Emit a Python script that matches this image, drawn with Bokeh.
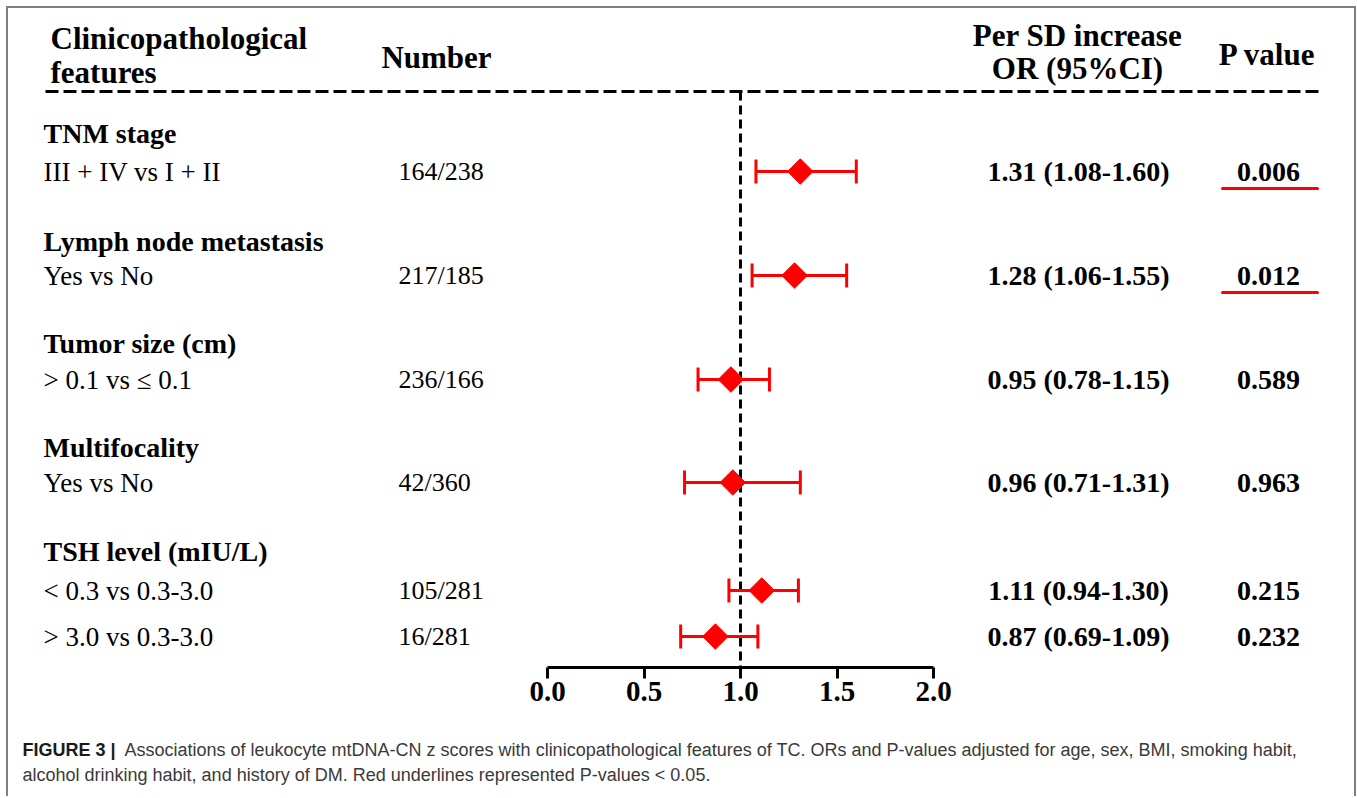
import math
from bokeh.plotting import figure
from bokeh.layouts import column
from bokeh.models import Range1d, LinearAxis, FixedTicker, PrintfTickFormatter
from bokeh.core.properties import value
from bokeh.embed import file_html
from bokeh.resources import INLINE

# ---------------- data ----------------
groups = ["TNM stage", "Lymph node metastasis", "Tumor size (cm)", "Multifocality", "TSH level (mIU/L)"]
comparisons = ["III + IV vs I + II", "Yes vs No", "> 0.1 vs \u2264  0.1", "Yes vs No",
               "< 0.3 vs 0.3-3.0", "> 3.0 vs 0.3-3.0"]
numbers = ["164/238", "217/185", "236/166", "42/360", "105/281", "16/281"]
or_est = [1.31, 1.28, 0.95, 0.96, 1.11, 0.87]
or_low = [1.08, 1.06, 0.78, 0.71, 0.94, 0.69]
or_high = [1.60, 1.55, 1.15, 1.31, 1.30, 1.09]
p_values = ["0.006", "0.012", "0.589", "0.963", "0.215", "0.232"]
x_ticks = [0.0, 0.5, 1.0, 1.5, 2.0]

# ---------------- layout (page pixels) ----------------
W = 1346
OX, OY = 8, 8              # page position of canvas origin
H1 = 712                   # chart part
H2 = 76                    # caption part
X0_PAGE = 547              # page x of OR = 0
PX_PER_UNIT = 193          # pixels per OR unit
AXIS_Y = 667               # page y of axis line
group_y = [133, 241, 343, 447, 551]
row_y = [171, 275, 379, 482, 590, 636]
HEADER_LINE_Y = 91

def px(xpage):
    return (xpage - X0_PAGE) / PX_PER_UNIT

SERIF = value("Liberation Serif")
RED = "#ff0000"

p = figure(width=W, height=H1,
           x_range=Range1d(px(OX), px(OX + W)),
           y_range=Range1d(AXIS_Y, OY),
           output_backend="svg", toolbar_location=None,
           x_axis_location=None, y_axis_location=None,
           min_border_left=0, min_border_right=0, min_border_top=0,
           min_border_bottom=H1 - (AXIS_Y - OY),
           outline_line_color=None)
p.xgrid.visible = False
p.ygrid.visible = False

# header texts
p.text(x=[px(50), px(50)], y=[38, 72], text=["Clinicopathological", "features"],
       text_font=SERIF, text_font_style="bold", text_font_size="31px",
       text_align="left", text_baseline="middle", text_color="black")
p.text(x=[px(436)], y=[57], text=["Number"],
       text_font=SERIF, text_font_style="bold", text_font_size="31px",
       text_align="center", text_baseline="middle", text_color="black")
p.text(x=[px(1077), px(1077)], y=[35, 68], text=["Per SD increase", "OR (95%CI)"],
       text_font=SERIF, text_font_style="bold", text_font_size="31px",
       text_align="center", text_baseline="middle", text_color="black")
p.text(x=[px(1267)], y=[54], text=["P value"],
       text_font=SERIF, text_font_style="bold", text_font_size="31px",
       text_align="center", text_baseline="middle", text_color="black")

# header dashed line
p.segment(x0=[px(45)], x1=[px(1322)], y0=[HEADER_LINE_Y], y1=[HEADER_LINE_Y],
          line_color="black", line_width=3, line_dash="13 5")
# reference line at OR = 1
p.segment(x0=[1.0], x1=[1.0], y0=[HEADER_LINE_Y], y1=[AXIS_Y],
          line_color="black", line_width=3, line_dash="9 5")

# group labels
p.text(x=[px(43)] * len(groups), y=group_y, text=groups,
       text_font=SERIF, text_font_style="bold", text_font_size="28px",
       text_align="left", text_baseline="middle", text_color="black")
# comparison labels
p.text(x=[px(43)] * len(comparisons), y=row_y, text=comparisons,
       text_font=SERIF, text_font_size="27px",
       text_align="left", text_baseline="middle", text_color="black")
# numbers
p.text(x=[px(398)] * len(numbers), y=row_y, text=numbers,
       text_font=SERIF, text_font_size="26px",
       text_align="left", text_baseline="middle", text_color="black")
# OR text
or_text = ["%.2f (%.2f-%.2f)" % (e, l, h) for e, l, h in zip(or_est, or_low, or_high)]
p.text(x=[px(1078)] * len(or_text), y=row_y, text=or_text,
       text_font=SERIF, text_font_style="bold", text_font_size="28px",
       text_align="center", text_baseline="middle", text_color="black")
# P values
p.text(x=[px(1268)] * len(p_values), y=row_y, text=p_values,
       text_font=SERIF, text_font_style="bold", text_font_size="28px",
       text_align="center", text_baseline="middle", text_color="black")
# red underlines for P < 0.05
sig_y = [y + 17 for y, pv in zip(row_y, p_values) if float(pv) < 0.05]
p.segment(x0=[px(1222)] * len(sig_y), x1=[px(1317)] * len(sig_y), y0=sig_y, y1=sig_y,
          line_color=RED, line_width=3, line_cap="round")

# forest plot marks
p.segment(x0=or_low, x1=or_high, y0=row_y, y1=row_y, line_color=RED, line_width=3)
p.scatter(x=or_low + or_high, y=row_y + row_y, marker="dash", size=24,
          angle=math.pi / 2, line_color=RED, line_width=3)
p.scatter(x=or_est, y=row_y, marker="square", angle=math.pi / 4, size=18,
          fill_color=RED, line_color=RED)

# axis
ax = LinearAxis(bounds=(0, 2), ticker=FixedTicker(ticks=x_ticks),
                formatter=PrintfTickFormatter(format="%.1f"),
                axis_line_width=3, axis_line_color="black",
                major_tick_line_width=3, major_tick_line_color="black",
                major_tick_in=0, major_tick_out=11,
                minor_tick_line_color=None,
                major_label_text_font="Liberation Serif",
                major_label_text_font_style="bold",
                major_label_text_font_size="29px",
                major_label_text_color="black",
                major_label_standoff=3)
p.add_layout(ax, "below")

# ---------------- caption ----------------
top2 = OY + H1
c = figure(width=W, height=H2,
           x_range=Range1d(OX, OX + W), y_range=Range1d(top2 + H2, top2),
           output_backend="svg", toolbar_location=None,
           x_axis_location=None, y_axis_location=None,
           min_border_left=0, min_border_right=0, min_border_top=0, min_border_bottom=0,
           outline_line_color=None)
c.xgrid.visible = False
c.ygrid.visible = False
CAP = value("Liberation Sans")
c.text(x=[22], y=[749], text=["FIGURE 3 |"], text_font=CAP, text_font_style="bold",
       text_font_size="18px", text_color="#1a1a1a", text_align="left", text_baseline="middle")
c.text(x=[124, 22], y=[749, 774],
       text=["Associations of leukocyte mtDNA-CN z scores with clinicopathological features of TC. "
             "ORs and P-values adjusted for age, sex, BMI, smoking habit,",
             "alcohol drinking habit, and history of DM. Red underlines represented P-values < 0.05."],
       text_font=CAP, text_font_size="18px", text_color="#3a3a3a",
       text_align="left", text_baseline="middle")

layout = column(p, c, styles={"margin-left": "6px", "margin-top": "6px",
                              "border-left": "2px solid #7f7f7f",
                              "border-top": "2px solid #7f7f7f",
                              "border-right": "2px solid #7f7f7f"})

open("out.html", "w").write(file_html(layout, INLINE))
